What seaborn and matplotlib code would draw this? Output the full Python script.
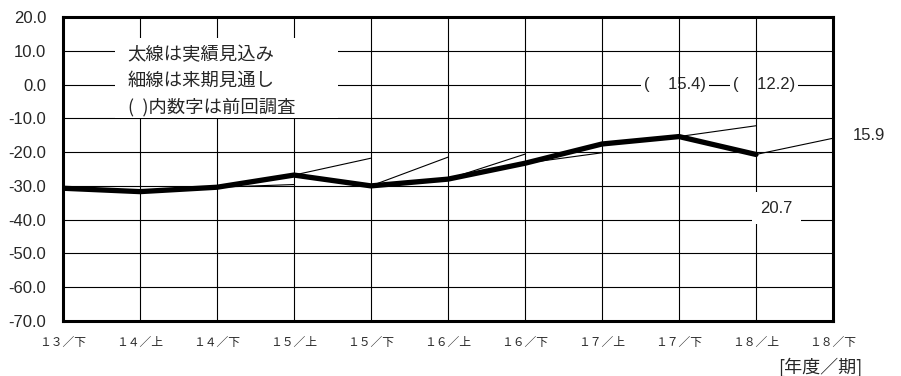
import numpy as np
import pandas as pd
import matplotlib
matplotlib.use('Agg')
import matplotlib.pyplot as plt
import matplotlib.patches as mpatches
import seaborn as sns

# periods (fiscal year / half)
periods = ['１３／下', '１４／上', '１４／下', '１５／上', '１５／下', '１６／上',
           '１６／下', '１７／上', '１７／下', '１８／上', '１８／下']
# thick line: actual / estimated results (18/下 has no result yet)
actual = [-30.7, -31.7, -30.4, -26.8, -30.0, -28.0, -23.3, -17.6, -15.4, -20.7, np.nan]
# thin line: outlook for the next period made in the previous period
outlook = [np.nan, -31.4, -30.5, -29.6, -21.8, -21.5, -20.6, -20.2, -15.6, -12.2, -15.9]

sns.set_style('white')
plt.rcParams['font.family'] = ['Liberation Sans', 'Noto Sans CJK JP', 'DejaVu Sans']
plt.rcParams['axes.unicode_minus'] = False

x = np.arange(len(periods))
df_actual = pd.DataFrame({'x': x, 'value': actual}).dropna()

# each outlook segment goes from the result of period i to the outlook for i+1
seg_rows = []
for i in range(len(periods) - 1):
    if np.isnan(actual[i]) or np.isnan(outlook[i + 1]):
        continue
    seg_rows.append({'seg': i, 'x': x[i], 'value': actual[i]})
    seg_rows.append({'seg': i, 'x': x[i + 1], 'value': outlook[i + 1]})
df_seg = pd.DataFrame(seg_rows)

fig = plt.figure(figsize=(9.01, 3.76), dpi=100)
ax = fig.add_axes([0.0699, 0.1463, 0.8546, 0.8085])

sns.lineplot(data=df_seg, x='x', y='value', units='seg', estimator=None,
             color='black', linewidth=0.8, ax=ax, zorder=3)
sns.lineplot(data=df_actual, x='x', y='value', color='black', linewidth=3.8,
             ax=ax, zorder=3)

ax.set_xlim(0, len(periods) - 1)
ax.set_ylim(-70, 20)
ax.set_yticks(np.arange(-70, 21, 10))
ax.set_yticklabels([f'{v:.1f}' for v in np.arange(-70, 21, 10)], fontsize=12)
ax.set_xticks(x)
ax.set_xticklabels(periods, fontsize=8.5, family=['Noto Sans CJK JP'])
ax.tick_params(axis='both', length=0)
ax.tick_params(axis='y', pad=12)
ax.tick_params(axis='x', pad=11)
ax.set_xlabel('')
ax.set_ylabel('')

ax.grid(True, color='black', linewidth=0.8)
ax.yaxis.set_zorder(0.5)
ax.xaxis.set_zorder(2.5)
for s in ax.spines.values():
    s.set_linewidth(2.2)
    s.set_color('black')

# legend-like note on a white panel
ax.add_patch(mpatches.Rectangle((0.0675, 0.668), 0.29, 0.263, transform=ax.transAxes,
                                facecolor='white', edgecolor='none', zorder=2.8))
ax.text(0.84, 1.0, '太線は実績見込み\n細線は来期見通し\n(  )内数字は前回調査',
        family=['Noto Sans CJK JP'], fontsize=13.2, va='center', ha='left',
        linespacing=1.55, zorder=4)

# previous survey values
lab_kw = dict(fontsize=12, va='center', ha='center', zorder=2,
              bbox=dict(facecolor='white', edgecolor='none', pad=2))
ax.text(7.95, 0, '(    15.4)', **lab_kw)
ax.text(9.1, 0, '(    12.2)', **lab_kw)

ax.text(9.27, -36.6, '20.7', fontsize=12, va='center', ha='center', zorder=4,
        bbox=dict(facecolor='white', edgecolor='none', pad=6))
ax.text(10.47, -15.2, '15.9', fontsize=12, va='center', ha='center', clip_on=False)

fig.text(0.957, 0.024, '[年度／期]', family=['Noto Sans CJK JP'], fontsize=13,
         ha='right', va='center')

fig.savefig('out.png', dpi=100)
